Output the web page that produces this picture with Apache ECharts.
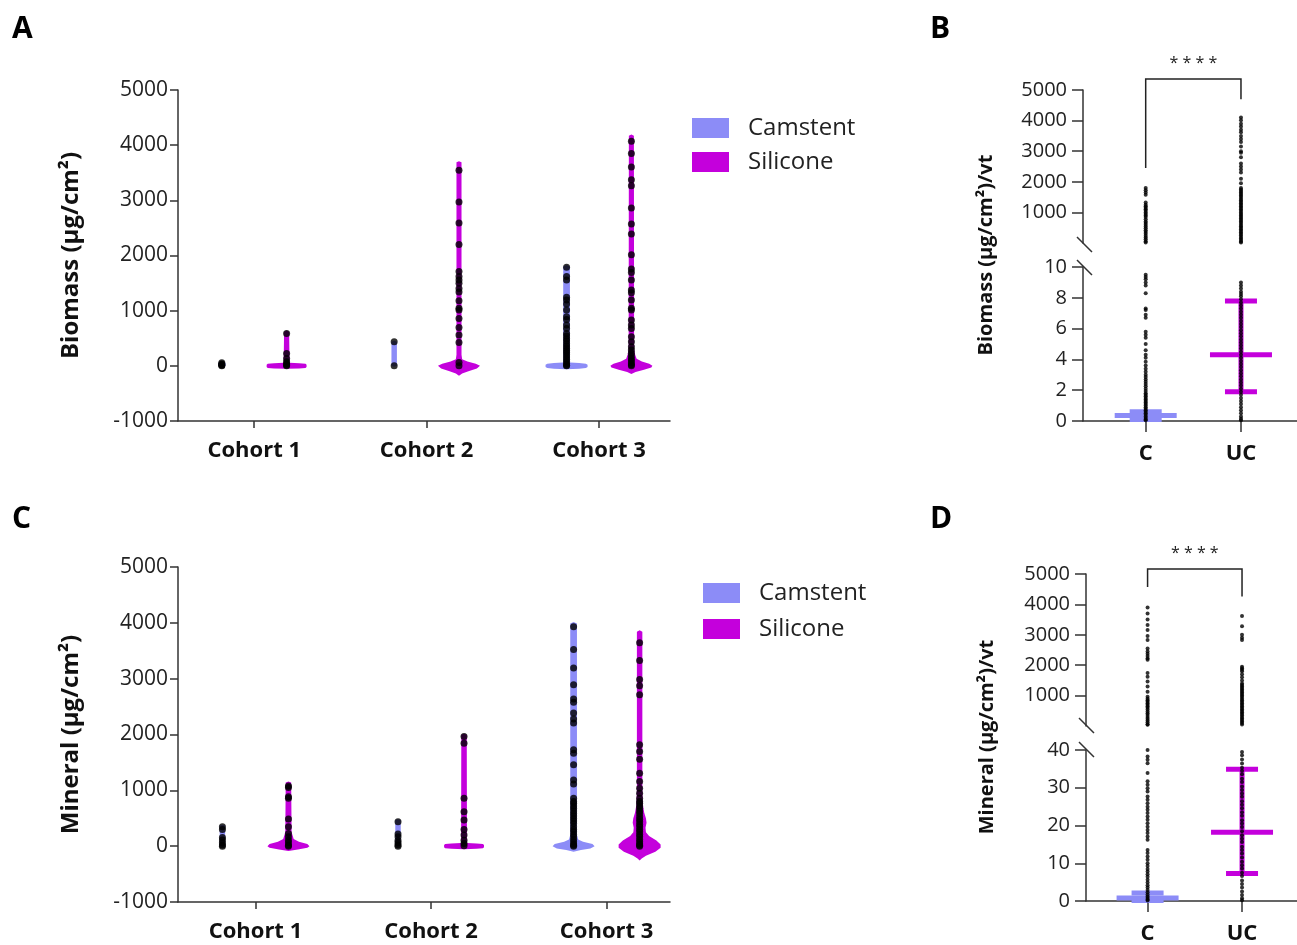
<!DOCTYPE html>
<html>
<head>
<meta charset="utf-8">
<script src="https://cdn.jsdelivr.net/npm/echarts@6/dist/echarts.min.js"></script>
<style>
html,body{margin:0;padding:0;background:#fff}
#main{width:1297px;height:945px}
</style>
</head>
<body>
<div id="main"></div>
<script>
var cohorts = ['Cohort 1', 'Cohort 2', 'Cohort 3'];
var groups = ['Camstent', 'Silicone'];
var groupsB = ['C', 'UC'];

// violin outlines: [value, relative half-width]
var biomassCamShape = [
    [[-20, 0], [0, 0.18], [50, 0.18], [70, 0]],
    [[-15, 0], [0, 0.13], [436, 0.13], [455, 0]],
    [[-60, 0], [-52, 0.6], [-40, 0.92], [-20, 1], [20, 1], [40, 0.92], [52, 0.6], [62, 0.17], [100, 0.16], [1800, 0.16], [1830, 0]]
];
var biomassSilShape = [
    [[-55, 0], [-48, 0.6], [-38, 0.9], [-20, 0.95], [20, 0.95], [38, 0.9], [48, 0.6], [58, 0.14], [620, 0.12], [640, 0]],
    [[-180, 0], [-140, 0.15], [-100, 0.45], [-50, 0.85], [0, 1], [40, 0.8], [80, 0.4], [120, 0.15], [200, 0.12], [3690, 0.12], [3710, 0]],
    [[-150, 0], [-110, 0.2], [-70, 0.6], [-30, 0.95], [0, 1], [40, 0.85], [80, 0.5], [130, 0.25], [200, 0.18], [300, 0.13], [4170, 0.12], [4195, 0]]
];
var mineralCamShape = [
    [[-15, 0], [0, 0.13], [370, 0.13], [385, 0]],
    [[-15, 0], [0, 0.13], [467, 0.13], [480, 0]],
    [[-100, 0], [-70, 0.35], [-40, 0.8], [0, 1], [40, 0.9], [80, 0.45], [120, 0.22], [200, 0.16], [3990, 0.16], [4015, 0]]
];
var mineralSilShape = [
    [[-85, 0], [-60, 0.45], [-30, 0.9], [0, 1], [40, 0.9], [80, 0.5], [130, 0.25], [250, 0.15], [1140, 0.13], [1160, 0]],
    [[-55, 0], [-48, 0.6], [-38, 0.9], [-20, 0.95], [20, 0.95], [38, 0.9], [48, 0.6], [58, 0.14], [1995, 0.13], [2015, 0]],
    [[-255, 0], [-220, 0.1], [-170, 0.3], [-100, 0.75], [-30, 1], [30, 1], [100, 0.8], [180, 0.45], [250, 0.3], [330, 0.28], [420, 0.33], [500, 0.3], [600, 0.22], [750, 0.15], [1000, 0.13], [3840, 0.13], [3865, 0]]
];

// individual points, per cohort
var biomassCamDots = [
    [55, 35, 20, 10, 0],
    [436, 0],
    [1788, 1618, 1557, 1242, 1194, 1121, 1012, 891, 842, 739, 679, 588, 540, 490, 450, 400, 360, 320, 280, 240, 200, 160, 120, 80, 40, 10, 0]
];
var biomassSilDots = [
    [588, 224, 133, 73, 40, 15, 0],
    [3545, 2970, 2588, 2200, 1709, 1618, 1557, 1497, 1400, 1339, 1182, 1042, 1012, 860, 697, 558, 424, 60, 0],
    [4072, 3848, 3606, 3375, 3266, 2860, 2570, 2388, 2012, 1757, 1690, 1557, 1375, 1327, 1194, 1042, 1012, 830, 739, 679, 527, 436, 345, 285, 230, 180, 130, 90, 50, 20, 0]
];
var mineralCamDots = [
    [347, 300, 156, 110, 60, 20, 0],
    [437, 216, 168, 100, 60, 20, 0],
    [3930, 3522, 3193, 2893, 2636, 2576, 2384, 2276, 2204, 1725, 1665, 1456, 1186, 1114, 857, 800, 767, 720, 677, 630, 587, 540, 497, 450, 407, 347, 300, 258, 210, 168, 120, 78, 40, 18, 0]
];
var mineralSilDots = [
    [1078, 1050, 886, 856, 485, 347, 228, 168, 108, 60, 18, 0],
    [1965, 1845, 856, 617, 467, 300, 198, 108, 48, 6],
    [3642, 3324, 2983, 2875, 2714, 1815, 1695, 1557, 1306, 1156, 1036, 946, 857, 800, 767, 720, 677, 630, 587, 527, 480, 437, 390, 347, 300, 258, 210, 168, 120, 78, 40, 18, 0]
];

// per vt values (broken axis panels)
var biomassC = [1800, 1720, 1650, 1580, 1320, 1250, 1200, 1150, 1100, 1050, 1000, 950, 900, 850, 780, 700, 650, 600, 540, 480, 420, 360, 300, 240, 180, 120, 60, 20,
    9.5, 9.35, 9.2, 9.0, 8.8, 8.3, 7.3, 7.2, 6.9, 6.7, 5.8, 5.6, 5.4, 5.0, 4.6, 4.3, 4.1, 3.85, 3.6, 3.4, 3.2, 3.0, 2.85, 2.7, 2.55, 2.4, 2.25, 2.1, 1.95, 1.8,
    1.7, 1.6, 1.5, 1.4, 1.3, 1.2, 1.1, 1.0, 0.9, 0.8, 0.7, 0.6, 0.5, 0.4, 0.3, 0.2, 0.1, 0.05];
var biomassUC = [4100, 4010, 3900, 3810, 3700, 3620, 3500, 3400, 3300, 3150, 3000, 2950, 2800, 2600, 2500, 2400, 2300, 2100, 1950, 1800, 1750, 1700, 1650, 1600,
    1550, 1500, 1450, 1400, 1350, 1300, 1250, 1200, 1150, 1100, 1050, 1000, 950, 900, 850, 800, 750, 700, 650, 600, 550, 500, 450, 400, 350, 300, 250, 200, 150, 100, 50, 20,
    9.0, 8.8, 8.6, 8.4, 8.25, 8.1, 7.9, 7.7, 7.5, 7.3, 7.1, 6.9, 6.7, 6.5, 6.3, 6.1, 5.9, 5.7, 5.5, 5.3, 5.1, 4.9, 4.7, 4.5, 4.3, 4.1, 3.9, 3.7, 3.5, 3.3, 3.1,
    2.9, 2.7, 2.5, 2.3, 2.1, 1.9, 1.7, 1.5, 1.3, 1.1, 0.9, 0.7, 0.5, 0.3, 0.15, 0.05];
var mineralC = [3900, 3700, 3500, 3320, 3160, 2960, 2830, 2550, 2450, 2380, 2300, 2230, 2180, 1740, 1620, 1460, 1300, 1130, 960, 900, 850, 800, 750, 700, 650, 600,
    540, 480, 420, 360, 300, 240, 180, 120, 60, 45,
    40, 38.3, 37.4, 36.5, 33.9, 31.7, 30.8, 29.9, 29, 27.7, 26.8, 25.9, 25, 24.2, 23.3, 22.4, 21.5, 20.6, 19.7, 18.8, 18, 17.1, 16.2, 13.5, 12.7, 11.8, 10.9,
    10, 9.3, 8.5, 7.8, 7.1, 6.4, 5.6, 4.9, 4.2, 3.6, 2.9, 2.3, 1.7, 1.2, 0.8, 0.4, 0.1];
var mineralUC = [3620, 3280, 3000, 2900, 2830, 1950, 1900, 1850, 1800, 1700, 1600, 1500, 1400, 1350, 1300, 1250, 1200, 1150, 1100, 1050, 1000, 950, 900, 850,
    800, 750, 700, 650, 600, 550, 500, 450, 400, 350, 300, 250, 200, 150, 100, 50,
    39.5, 38.6, 37.5, 36.4, 35.3, 34.5, 33.6, 32.4, 31.5, 30.3, 29.4, 28.5, 27.6, 26.4, 25.5, 24.6, 23.5, 22.6, 21.4, 20.5, 19.6, 18.5, 17.4, 16.5, 15.6,
    14.4, 13.5, 12.6, 11.5, 10.4, 9.5, 8.6, 7.5, 6.6, 5.4, 4.5, 3.6, 2.5, 1.6, 0.7, 0.2];

// mean and SD bars (C, UC)
var biomassMean = [0.35, 4.3];
var biomassSdLow = [0.1, 1.9];
var biomassSdHigh = [0.6, 7.8];
var mineralMean = [0.8, 18.2];
var mineralSdLow = [0.1, 7.3];
var mineralSdHigh = [2.1, 34.9];

var CAM = '#8c8cf7';
var SIL = '#c400dc';
var AXIS = '#333';
var TXT = '#222';
var FONT = '"Open Sans", "DejaVu Sans", sans-serif';
var HALF = 21;     // max violin half width, px
var OFF = 0.188;   // group offset inside a cohort

var chart = echarts.init(document.getElementById('main'));

function plain(v) { return String(v); }

function violin(shapes, offset) {
    return function (params, api) {
        var shape = shapes[params.dataIndex];
        var x = api.value(0) + offset;
        var left = [], right = [];
        shape.forEach(function (s) {
            var p = api.coord([x, s[0]]);
            left.push([p[0] - s[1] * HALF, p[1]]);
            right.unshift([p[0] + s[1] * HALF, p[1]]);
        });
        return {
            type: 'polygon',
            shape: {points: left.concat(right)},
            style: {fill: api.visual('color')}
        };
    };
}

function dotData(lists, offset) {
    var out = [];
    lists.forEach(function (vals, i) {
        vals.forEach(function (v) { out.push([i + 1 + offset, v]); });
    });
    return out;
}

function seg(vals, x, cut, upper) {
    return vals.filter(function (v) { return upper ? v > cut : v <= cut; })
        .map(function (v) { return [x, v]; });
}

function meanSd(params, api) {
    var x = api.value(0);
    var m = api.coord([x, api.value(1)]);
    var lo = api.coord([x, api.value(2)]);
    var hi = api.coord([x, api.value(3)]);
    var c = api.visual('color');
    var t = 5;
    return {
        type: 'group',
        children: [
            {type: 'rect', shape: {x: m[0] - 2.5, y: hi[1], width: 5, height: lo[1] - hi[1]}, style: {fill: c}},
            {type: 'rect', shape: {x: m[0] - 31, y: m[1] - t / 2, width: 62, height: t}, style: {fill: c}},
            {type: 'rect', shape: {x: m[0] - 16, y: hi[1] - t / 2, width: 32, height: t}, style: {fill: c}},
            {type: 'rect', shape: {x: m[0] - 16, y: lo[1] - t / 2, width: 32, height: t}, style: {fill: c}}
        ]
    };
}

function bracket(params, api) {
    var a = api.coord([api.value(0), api.value(2)]);
    var b = api.coord([api.value(1), api.value(2)]);
    var la = api.coord([api.value(0), api.value(3)]);
    var rb = api.coord([api.value(1), api.value(4)]);
    return {
        type: 'group',
        children: [
            {type: 'polyline', shape: {points: [la, a, b, rb]}, style: {stroke: '#222', lineWidth: 1.5, fill: null}},
            {type: 'text', x: (a[0] + b[0]) / 2, y: a[1] - 16,
             style: {text: '* * * *', font: '16px ' + FONT, fill: '#222', align: 'center', verticalAlign: 'middle'}}
        ]
    };
}

function meanData(mean, lo, hi) {
    return [
        {value: [1, mean[0], lo[0], hi[0]], itemStyle: {color: CAM}},
        {value: [2, mean[1], lo[1], hi[1]], itemStyle: {color: SIL}}
    ];
}

var yLabel = {color: TXT, fontSize: 21, fontFamily: FONT, margin: 10, formatter: plain};
var line = {show: true, onZero: false, lineStyle: {color: AXIS, width: 1.5}};
var tick = {show: true, length: 8, lineStyle: {color: AXIS, width: 1.5}};
var tickB = {show: true, length: 11, lineStyle: {color: AXIS, width: 1.5}};

function labelB(extra) {
    return Object.assign({color: TXT, fontSize: 20, fontFamily: FONT, margin: 16, formatter: plain}, extra || {});
}

function cohortAxis(grid, min, max) {
    return {
        type: 'value', gridIndex: grid, min: min, max: max,
        axisLine: line, splitLine: {show: false},
        axisTick: {show: true, length: 7, customValues: [1, 2, 3], lineStyle: {color: AXIS, width: 1.5}},
        axisLabel: {customValues: [1, 2, 3], margin: 19, color: '#111', fontSize: 22, fontWeight: 'bold', fontFamily: FONT,
            formatter: function (v) { return cohorts[Math.round(v) - 1]; }}
    };
}

function groupAxis(grid, min, max, show) {
    return {
        type: 'value', gridIndex: grid, min: min, max: max, show: show,
        axisLine: {show: true, onZero: false, lineStyle: {color: AXIS, width: 1.5}}, splitLine: {show: false},
        axisTick: {show: true, length: 11, customValues: [1, 2], lineStyle: {color: AXIS, width: 1.5}},
        axisLabel: {customValues: [1, 2], margin: 22, color: '#111', fontSize: 22, fontWeight: 'bold', fontFamily: FONT,
            formatter: function (v) { return groupsB[Math.round(v) - 1]; }}
    };
}

function upperAxis(grid) {
    var ticks = [1000, 2000, 3000, 4000, 5000];
    return {
        type: 'value', gridIndex: grid, min: 0, max: 5000,
        axisLine: line, splitLine: {show: false},
        axisTick: {show: true, length: 11, customValues: ticks, lineStyle: {color: AXIS, width: 1.5}},
        axisLabel: labelB({customValues: ticks})
    };
}

function lowerAxis(grid, max, step) {
    return {
        type: 'value', gridIndex: grid, min: 0, max: max, interval: step,
        axisLine: line, splitLine: {show: false}, axisTick: tickB, axisLabel: labelB()
    };
}

function violinPanel(grid, camShape, silShape, camDots, silDots) {
    var idx = cohorts.map(function (c, i) { return [i + 1]; });
    return [
        {type: 'custom', name: groups[0], xAxisIndex: grid, yAxisIndex: grid, itemStyle: {color: CAM}, z: 2,
         renderItem: violin(camShape, -OFF), data: idx},
        {type: 'custom', name: groups[1], xAxisIndex: grid, yAxisIndex: grid, itemStyle: {color: SIL}, z: 2,
         renderItem: violin(silShape, OFF), data: idx},
        {type: 'scatter', name: 'pts', xAxisIndex: grid, yAxisIndex: grid, symbolSize: 7, z: 3,
         itemStyle: {color: '#000'}, data: dotData(camDots, -OFF).concat(dotData(silDots, OFF))}
    ];
}

function brokenPanel(up, low, cut, cVals, ucVals, mean, lo, hi, br) {
    return [
        {type: 'scatter', name: 'pts', xAxisIndex: up, yAxisIndex: up, symbolSize: 4, z: 3, itemStyle: {color: '#000'},
         data: seg(cVals, 1, cut, true).concat(seg(ucVals, 2, cut, true))},
        {type: 'scatter', name: 'pts', xAxisIndex: low, yAxisIndex: low, symbolSize: 4, z: 3, itemStyle: {color: '#000'},
         data: seg(cVals, 1, cut, false).concat(seg(ucVals, 2, cut, false))},
        {type: 'custom', name: 'bars', xAxisIndex: low, yAxisIndex: low, z: 2, renderItem: meanSd, data: meanData(mean, lo, hi)},
        {type: 'custom', name: 'sig', xAxisIndex: up, yAxisIndex: up, z: 2, renderItem: bracket, data: [br]}
    ];
}

function legendAt(left, top, gap) {
    return {
        data: groups, left: left, top: top, orient: 'vertical', icon: 'rect',
        itemWidth: 37, itemHeight: 20, itemGap: gap, padding: 0, selectedMode: false,
        textStyle: {fontSize: 24, fontFamily: FONT, color: TXT, lineHeight: 20, padding: [0, 0, 0, 14]}
    };
}

function letter(t, x, y) {
    return {type: 'text', x: x, y: y, style: {text: t, font: 'bold 30px ' + FONT, fill: '#000'}};
}
function slash(x, y) {
    return {type: 'line', shape: {x1: x, y1: y, x2: x + 15, y2: y + 15}, style: {stroke: AXIS, lineWidth: 1.5}};
}
function vTitle(t, x, y) {
    return {type: 'text', x: x, y: y, rotation: Math.PI / 2,
        style: {text: t, font: 'bold 20px ' + FONT, fill: '#111', align: 'center', verticalAlign: 'middle'}};
}

var titleStyle = {fontSize: 24, fontWeight: 'bold', fontFamily: FONT, color: '#111'};

var option = {
    backgroundColor: '#fff',
    animation: false,
    grid: [
        {left: 178, top: 90, width: 492, height: 331},
        {left: 1083, top: 90, width: 214, height: 153},
        {left: 1083, top: 267, width: 214, height: 154},
        {left: 178, top: 567, width: 492, height: 335},
        {left: 1086, top: 574, width: 211, height: 152},
        {left: 1086, top: 750, width: 211, height: 151}
    ],
    legend: [legendAt(692, 116, 10), legendAt(703, 581, 12)],
    xAxis: [
        cohortAxis(0, 0.558, 3.412),
        groupAxis(1, 0.342, 2.588, false),
        groupAxis(2, 0.342, 2.588, true),
        cohortAxis(3, 0.559, 3.361),
        groupAxis(4, 0.348, 2.582, false),
        groupAxis(5, 0.348, 2.582, true)
    ],
    yAxis: [
        {type: 'value', gridIndex: 0, min: -1000, max: 5000, interval: 1000, axisLine: line, axisTick: tick, axisLabel: yLabel,
         splitLine: {show: false}, name: 'Biomass (µg/cm²)', nameLocation: 'middle', nameGap: 95, nameTextStyle: titleStyle},
        upperAxis(1),
        lowerAxis(2, 10, 2),
        {type: 'value', gridIndex: 3, min: -1000, max: 5000, interval: 1000, axisLine: line, axisTick: tick, axisLabel: yLabel,
         splitLine: {show: false}, name: 'Mineral (µg/cm²)', nameLocation: 'middle', nameGap: 95, nameTextStyle: titleStyle},
        upperAxis(4),
        lowerAxis(5, 40, 10)
    ],
    graphic: [
        letter('A', 12, 14), letter('B', 930, 14), letter('C', 12, 504), letter('D', 930, 504),
        slash(1077, 237), slash(1077, 260), slash(1079, 718), slash(1079, 742),
        vTitle('Biomass (µg/cm²)/vt', 986, 255), vTitle('Mineral (µg/cm²)/vt', 987, 737)
    ],
    series: [].concat(
        violinPanel(0, biomassCamShape, biomassSilShape, biomassCamDots, biomassSilDots),
        violinPanel(3, mineralCamShape, mineralSilShape, mineralCamDots, mineralSilDots),
        brokenPanel(1, 2, 10, biomassC, biomassUC, biomassMean, biomassSdLow, biomassSdHigh, [1, 2, 5360, 2450, 4700]),
        brokenPanel(4, 5, 40, mineralC, mineralUC, mineralMean, mineralSdLow, mineralSdHigh, [1, 2, 5165, 4570, 4260])
    )
};
chart.setOption(option);
</script>
</body>
</html>
